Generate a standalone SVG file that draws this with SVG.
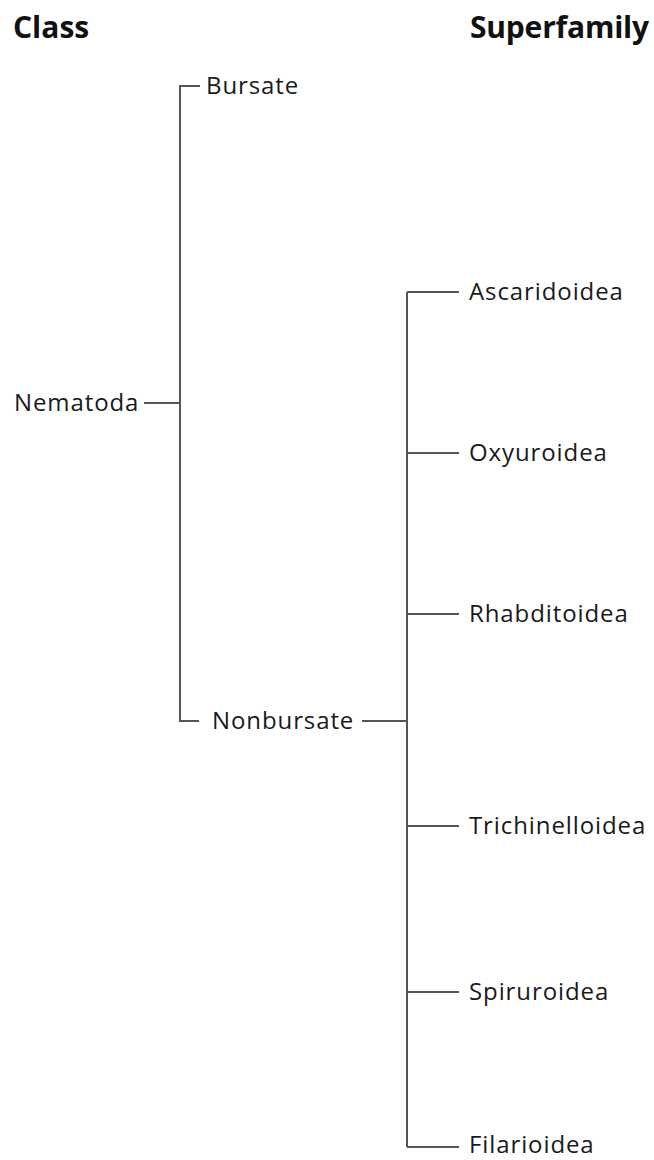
<svg xmlns="http://www.w3.org/2000/svg" width="654" height="1160" viewBox="0 0 654 1160">
<style>
.t{font-family:"Open Sans","Noto Sans",sans-serif;font-size:24px;letter-spacing:0.9px;fill:#1a1a1a}
.h{font-family:"Open Sans","Noto Sans",sans-serif;font-size:30px;font-weight:bold;fill:#111}
.c{stroke:#555;stroke-width:2;fill:none}
</style>
<rect width="654" height="1160" fill="#fff"/>
<g id="headers">
<text class="h" x="13" y="38">Class</text>
<text class="h" x="470" y="38" letter-spacing="-0.2">Superfamily</text>
</g>
<g id="connectors">
<path class="c" d="M144 403H180M200 86H180V721H199M362 721H407M407 292V1147M407 292H459M407 453H459M407 614H459M407 826H459M407 992H459M407 1147H459"/>
</g>
<g id="nematoda"><text class="t" x="14" y="411">Nematoda</text></g>
<g id="bursate"><text class="t" x="206" y="94">Bursate</text></g>
<g id="nonbursate"><text class="t" x="212" y="729">Nonbursate</text></g>
<g id="ascaridoidea"><text class="t" x="469" y="300">Ascaridoidea</text></g>
<g id="oxyuroidea"><text class="t" x="469" y="461">Oxyuroidea</text></g>
<g id="rhabditoidea"><text class="t" x="469" y="622">Rhabditoidea</text></g>
<g id="trichinelloidea"><text class="t" x="469" y="834">Trichinelloidea</text></g>
<g id="spiruroidea"><text class="t" x="469" y="1000">Spiruroidea</text></g>
<g id="filarioidea"><text class="t" x="469" y="1153">Filarioidea</text></g>
</svg>
